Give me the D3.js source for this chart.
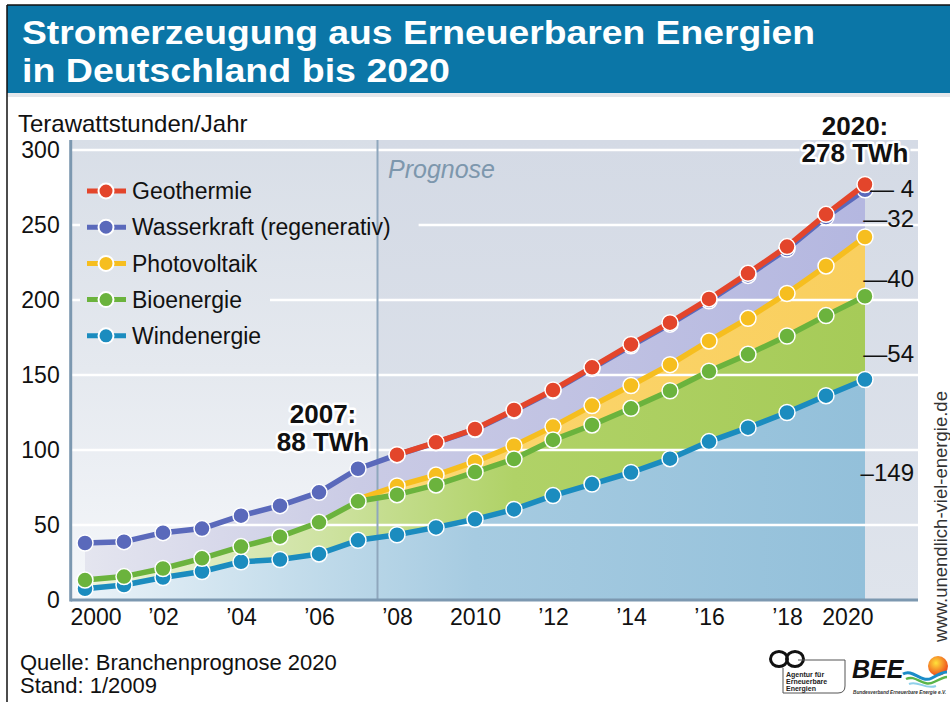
<!DOCTYPE html>
<html>
<head>
<meta charset="utf-8">
<script src="https://cdnjs.cloudflare.com/ajax/libs/d3/7.8.5/d3.min.js"></script>
<style>
  body { margin: 0; background: #fff; }
  svg { display: block; font-family: "Liberation Sans", Arial, Helvetica, sans-serif; }
</style>
</head>
<body>
<div id="chart"></div>
<script>
// --- data (TWh per year) ---
var years = [2000, 2001, 2002, 2003, 2004, 2005, 2006, 2007, 2008, 2009, 2010,
             2011, 2012, 2013, 2014, 2015, 2016, 2017, 2018, 2019, 2020];
var wind  = [7.5, 10, 15, 19, 25.5, 27, 30.7, 39.8, 43.5, 48.4, 53.8,
             60.4, 69.6, 77.3, 85, 94.2, 105.6, 114.9, 125, 136.2, 147];
var bio   = [5.8, 5.6, 6, 8.8, 10.1, 15.2, 21.1, 26, 26.7, 28.3, 31.5,
             33.6, 37.1, 39.4, 42.8, 45.3, 46.9, 48.9, 51, 53.4, 55.5];
var pv    = [0.1, 0.2, 0.2, 0.3, 0.6, 1.3, 2.2, 1.5, 5.8, 6.6, 6.9,
             8.9, 8.9, 12.9, 15.2, 17.4, 20.2, 24, 28.4, 33.1, 39.5];
var water = [24.6, 23.1, 23.7, 19.5, 20, 19.4, 17.8, 20.2, 20.8, 21.6, 21.5,
             23.3, 23.8, 24.8, 26.5, 27, 26.8, 28.6, 29.6, 32.6, 31.5];
var geo   = [0, 0, 0, 0, 0, 0, 0, 0, 0.1, 0.2, 0.3,
             0.5, 0.6, 0.7, 0.9, 1.0, 1.2, 1.4, 1.6, 1.8, 3.5];

var keys = ["wind", "bio", "pv", "water", "geo"];
var legendKeys = ["geo", "water", "pv", "bio", "wind"];
var legendLabels = ["Geothermie", "Wasserkraft (regenerativ)", "Photovoltaik", "Bioenergie", "Windenergie"];
var xTicks = [2000, 2002, 2004, 2006, 2008, 2010, 2012, 2014, 2016, 2018, 2020];
var xTickLabels = ["2000", "\u201902", "\u201904", "\u201906", "\u201908", "2010",
                   "\u201912", "\u201914", "\u201916", "\u201918", "2020"];
var yTicks = [0, 50, 100, 150, 200, 250, 300];
var endLabels = ["\u2014 4", "\u201432", "\u201440", "\u201454", "\u2013149"];
var endLabelAt = [274.7, 254.7, 214.7, 164.7, 85.3]; // TWh height of each side label

var colors = { wind: "#1b8cbf", bio: "#6bb33d", pv: "#f6be1f", water: "#5a69bb", geo: "#e3452b" };

// build rows + stack
var rows = years.map(function (yr, i) {
    return { year: yr, wind: wind[i], bio: bio[i], pv: pv[i], water: water[i], geo: geo[i] };
});
var stacked = d3.stack().keys(keys)(rows);

var W = 950, H = 702;
var plot = { left: 70.7, right: 918, top: 140, bottom: 600 };

var svg = d3.select("#chart").append("svg").attr("width", W).attr("height", H);
var defs = svg.append("defs");

var x = d3.scaleLinear().domain([2000, 2020]).range([85, 865]);
var y = d3.scaleLinear().domain([0, 300]).range([600, 150]);

function linGrad(id, x1, y1, x2, y2, stops) {
    var g = defs.append("linearGradient").attr("id", id)
        .attr("gradientUnits", "userSpaceOnUse")
        .attr("x1", x1).attr("y1", y1).attr("x2", x2).attr("y2", y2);
    stops.forEach(function (s) { g.append("stop").attr("offset", s[0]).attr("stop-color", s[1]); });
}
linGrad("bgLeft", 0, plot.top, 0, plot.bottom, [[0, "#d8dee7"], [0.5, "#e5e9ef"], [1, "#f5f7fa"]]);
linGrad("bgRight", 0, plot.top, 0, plot.bottom, [[0, "#d4dae5"], [1, "#dfe4ec"]]);
linGrad("g-wind", 85, 0, 865, 0, [[0, "#eaf2f8"], [0.25, "#c6deec"], [0.5, "#a6cbe1"], [1, "#93c0da"]]);
linGrad("g-bio", 85, 0, 865, 0, [[0, "#eef4dd"], [0.3, "#cfe3a3"], [0.55, "#b0d267"], [1, "#a6cb58"]]);
linGrad("g-pv", 85, 0, 865, 0, [[0, "#fde9a8"], [0.5, "#fbd56c"], [1, "#f9cf5e"]]);
linGrad("g-water", 85, 0, 865, 0, [[0, "#e4e5ef"], [0.35, "#cacbe5"], [1, "#b4b7e0"]]);
linGrad("g-geo", 85, 0, 865, 0, [[0, "#f4c2b4"], [1, "#ee9f88"]]);

// --- frame + title ---
svg.append("rect").attr("x", 7).attr("y", 5).attr("width", W - 7).attr("height", 88).attr("fill", "#0b76a7");
svg.append("rect").attr("x", 7).attr("y", 93).attr("width", W - 7).attr("height", 4).attr("fill", "#e4e7eb");
svg.append("line").attr("x1", 7).attr("x2", W).attr("y1", 5).attr("y2", 5).attr("stroke", "#111").attr("stroke-width", 1.5);
svg.append("line").attr("x1", 7).attr("x2", 7).attr("y1", 5).attr("y2", H).attr("stroke", "#111").attr("stroke-width", 1.5);

svg.append("text").attr("x", 22).attr("y", 44).attr("fill", "#fff")
    .attr("font-size", 34).attr("font-weight", "bold")
    .attr("textLength", 793).attr("lengthAdjust", "spacingAndGlyphs")
    .text("Stromerzeugung aus Erneuerbaren Energien");
svg.append("text").attr("x", 22).attr("y", 82).attr("fill", "#fff")
    .attr("font-size", 34).attr("font-weight", "bold")
    .attr("textLength", 428).attr("lengthAdjust", "spacingAndGlyphs")
    .text("in Deutschland bis 2020");

svg.append("text").attr("x", 18).attr("y", 132).attr("font-size", 24).attr("fill", "#111")
    .text("Terawattstunden/Jahr");

// --- plot background ---
var xProg = x(2007.5);
svg.append("rect").attr("x", plot.left).attr("y", plot.top)
    .attr("width", xProg - plot.left).attr("height", plot.bottom - plot.top).attr("fill", "url(#bgLeft)");
svg.append("rect").attr("x", xProg).attr("y", plot.top)
    .attr("width", plot.right - xProg).attr("height", plot.bottom - plot.top).attr("fill", "url(#bgRight)");

// --- stacked areas ---
var area = d3.area()
    .x(function (d) { return x(d.data.year); })
    .y0(function (d) { return y(d[0]); })
    .y1(function (d) { return y(d[1]); });

svg.append("g").selectAll("path")
    .data(stacked)
    .enter().append("path")
    .attr("d", area)
    .attr("fill", function (d) { return "url(#g-" + d.key + ")"; });

// mask so gridlines stop at legend texts and the 2020 label
var mask = defs.append("mask").attr("id", "gridMask")
    .attr("maskUnits", "userSpaceOnUse").attr("x", 0).attr("y", 0).attr("width", W).attr("height", H);
mask.append("rect").attr("width", W).attr("height", H).attr("fill", "#fff");

// --- gridlines ---
svg.append("g").attr("mask", "url(#gridMask)")
    .selectAll("line")
    .data(yTicks.filter(function (t) { return t > 0; }))
    .enter().append("line")
    .attr("x1", plot.left).attr("x2", plot.right)
    .attr("y1", function (d) { return y(d); }).attr("y2", function (d) { return y(d); })
    .attr("stroke", "#fff").attr("stroke-width", 2.5);

// prognose divider
svg.append("line").attr("x1", xProg).attr("x2", xProg).attr("y1", plot.top).attr("y2", plot.bottom)
    .attr("stroke", "#8fa7bd").attr("stroke-width", 2);
svg.append("text").attr("x", 388).attr("y", 178).attr("font-size", 25).attr("font-style", "italic")
    .attr("fill", "#7d97ad").text("Prognose");

// axis lines
svg.append("line").attr("x1", plot.left).attr("x2", plot.left).attr("y1", plot.top).attr("y2", plot.bottom + 1.5)
    .attr("stroke", "#7c98b0").attr("stroke-width", 3);
svg.append("line").attr("x1", plot.left).attr("x2", plot.right).attr("y1", plot.bottom).attr("y2", plot.bottom)
    .attr("stroke", "#7c98b0").attr("stroke-width", 3);

// --- axes (labels only) ---
var yAxis = svg.append("g").attr("transform", "translate(" + plot.left + ",0)")
    .call(d3.axisLeft(y).tickValues(yTicks).tickSize(0).tickPadding(11));
yAxis.select(".domain").remove();
yAxis.selectAll("text").attr("font-size", 23).attr("fill", "#111")
    .attr("font-family", "'Liberation Sans', Arial, sans-serif");

var xAxis = svg.append("g").attr("transform", "translate(0," + plot.bottom + ")")
    .call(d3.axisBottom(x).tickValues(xTicks)
        .tickFormat(function (d, i) { return xTickLabels[i]; })
        .tickSize(0).tickPadding(9));
xAxis.select(".domain").remove();
xAxis.selectAll("text").attr("font-size", 23).attr("fill", "#111")
    .attr("font-family", "'Liberation Sans', Arial, sans-serif");
xAxis.selectAll("text").filter(function (d) { return d === 2000; }).attr("text-anchor", "start").attr("x", -15);
xAxis.selectAll("text").filter(function (d) { return d === 2020; }).attr("text-anchor", "end").attr("x", 8);

// --- series lines + points ---
var drawOrder = ["wind", "pv", "bio", "water", "geo"];
var showLine = {
    wind: function () { return true; },
    bio: function () { return true; },
    water: function () { return true; },
    pv: function (d) { return d.data.year >= 2007; },
    geo: function (d) { return d.data.geo > 0; }
};
var showDot = {
    wind: function () { return true; },
    bio: function () { return true; },
    water: function () { return true; },
    pv: function (d) { return d.data.year >= 2008; },
    geo: function (d) { return d.data.geo > 0; }
};

drawOrder.forEach(function (k) {
    var layer = stacked.find(function (s) { return s.key === k; });
    var line = d3.line().defined(showLine[k])
        .x(function (d) { return x(d.data.year); })
        .y(function (d) { return y(d[1]); });
    var g = svg.append("g").attr("class", "series-" + k);
    g.append("path").datum(layer).attr("d", line)
        .attr("fill", "none").attr("stroke", colors[k]).attr("stroke-width", 5.5)
        .attr("stroke-linejoin", "round");
    g.selectAll("circle").data(layer.filter(showDot[k]))
        .enter().append("circle")
        .attr("cx", function (d) { return x(d.data.year); })
        .attr("cy", function (d) { return y(d[1]); })
        .attr("r", 8)
        .attr("fill", colors[k]).attr("stroke", "#fff").attr("stroke-width", 1.5);
});

// --- legend ---
var legend = svg.append("g");
legendKeys.forEach(function (k, i) {
    var cy = 191 + i * 36.2;
    legend.append("line").attr("x1", 87).attr("x2", 126).attr("y1", cy).attr("y2", cy)
        .attr("stroke", colors[k]).attr("stroke-width", 5);
    legend.append("circle").attr("cx", 106).attr("cy", cy).attr("r", 7.5)
        .attr("fill", colors[k]).attr("stroke", "#fff").attr("stroke-width", 2);
    var t = legend.append("text").attr("x", 132).attr("y", cy).attr("dy", "0.36em")
        .attr("font-size", 23).attr("fill", "#111").text(legendLabels[i]);
    var len = t.node().getComputedTextLength();
    mask.append("rect").attr("x", 80).attr("y", cy - 17).attr("width", 132 + len + 28 - 80).attr("height", 34)
        .attr("fill", "#000");
});

// --- annotations ---
function halo(sel) {
    return sel.attr("stroke", "#fff").attr("stroke-width", 5).attr("stroke-linejoin", "round")
        .style("paint-order", "stroke");
}
var ann = svg.append("g").attr("font-weight", "bold").attr("font-size", 26).attr("text-anchor", "middle").attr("fill", "#111");
halo(ann.append("text").attr("x", 323).attr("y", 423).text("2007:"));
halo(ann.append("text").attr("x", 323).attr("y", 451).text("88 TWh"));
halo(ann.append("text").attr("x", 855).attr("y", 135).text("2020:"));
var t278 = halo(ann.append("text").attr("x", 855).attr("y", 162).text("278 TWh"));
var bb = t278.node().getBBox();
mask.append("rect").attr("x", bb.x - 2).attr("y", bb.y).attr("width", bb.width + 4).attr("height", bb.height).attr("fill", "#000");

// side labels at 2020
svg.append("g").selectAll("text").data(endLabels)
    .enter().append("text")
    .attr("x", 914)
    .attr("y", function (d, i) { return y(endLabelAt[i]); })
    .attr("dy", "0.36em")
    .attr("text-anchor", "end").attr("font-size", 24).attr("fill", "#111")
    .text(function (d) { return d; });

// --- footer ---
svg.append("text").attr("x", 20).attr("y", 670).attr("font-size", 22).attr("fill", "#111")
    .text("Quelle: Branchenprognose 2020");
svg.append("text").attr("x", 20).attr("y", 693).attr("font-size", 22).attr("fill", "#111")
    .text("Stand: 1/2009");

svg.append("text").attr("transform", "translate(947,642) rotate(-90)")
    .attr("font-size", 18.5).attr("fill", "#333").text("www.unendlich-viel-energie.de");

// logos (rough)
var logo = svg.append("g");
logo.append("ellipse").attr("cx", 779).attr("cy", 659).attr("rx", 8.5).attr("ry", 7.5)
    .attr("fill", "none").attr("stroke", "#111").attr("stroke-width", 3);
logo.append("ellipse").attr("cx", 795).attr("cy", 659).attr("rx", 8.5).attr("ry", 7.5)
    .attr("fill", "none").attr("stroke", "#111").attr("stroke-width", 3);
logo.append("path").attr("d", "M783,668 V693 H838 Q845,693 845,686 V660 H798")
    .attr("fill", "none").attr("stroke", "#555").attr("stroke-width", 1);
var ag = logo.append("g").attr("font-size", 7).attr("font-weight", "bold").attr("fill", "#222");
ag.append("text").attr("x", 786).attr("y", 677).text("Agentur für");
ag.append("text").attr("x", 786).attr("y", 684).text("Erneuerbare");
ag.append("text").attr("x", 786).attr("y", 691).text("Energien");

var sun = defs.append("radialGradient").attr("id", "sun").attr("cx", "40%").attr("cy", "35%").attr("r", "65%");
sun.append("stop").attr("offset", 0).attr("stop-color", "#ffe23a");
sun.append("stop").attr("offset", 1).attr("stop-color", "#ee4b1c");
logo.append("circle").attr("cx", 938).attr("cy", 666).attr("r", 10).attr("fill", "url(#sun)");
logo.append("path").attr("d", "M903,674 C913,668 921,684 932,678 C939,674 943,672 947,672")
    .attr("fill", "none").attr("stroke", "#1b8cc8").attr("stroke-width", 3);
logo.append("path").attr("d", "M906,679 C916,674 923,688 934,682 C940,679 944,677 947,677")
    .attr("fill", "none").attr("stroke", "#5bb54a").attr("stroke-width", 2.5);
logo.append("path").attr("d", "M909,684 C918,680 925,690 936,686")
    .attr("fill", "none").attr("stroke", "#8fd0ea").attr("stroke-width", 2);
logo.append("text").attr("x", 852).attr("y", 678).attr("font-size", 25).attr("font-weight", "bold")
    .attr("font-style", "italic").attr("fill", "#111").text("BEE");
logo.append("text").attr("x", 853).attr("y", 694).attr("font-size", 5.5).attr("font-weight", "bold")
    .attr("font-style", "italic").attr("fill", "#333")
    .attr("textLength", 93).attr("lengthAdjust", "spacingAndGlyphs")
    .text("Bundesverband Erneuerbare Energie e.V.");
</script>
</body>
</html>
